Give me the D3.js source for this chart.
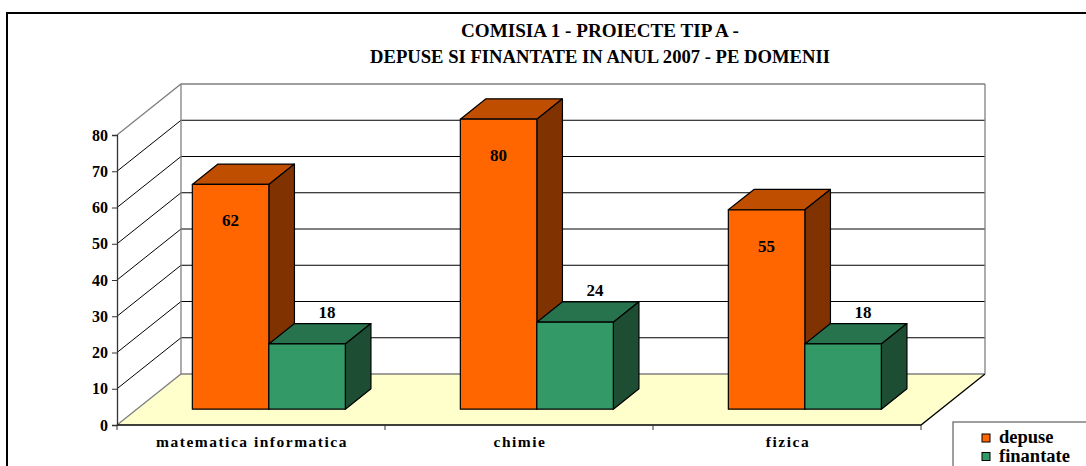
<!DOCTYPE html>
<html>
<head>
<meta charset="utf-8">
<script src="https://cdn.jsdelivr.net/npm/d3@7"></script>
<style>
  body { margin: 0; background: #fff; }
  svg { display: block; }
  text { font-family: "Liberation Serif", "Times New Roman", serif; font-weight: bold; fill: #000; }
</style>
</head>
<body>
<svg width="1086" height="466"></svg>
<script>
const titleLines = ["COMISIA 1 - PROIECTE TIP A -", "DEPUSE SI FINANTATE IN ANUL 2007 - PE DOMENII"];
const categories = ["matematica informatica", "chimie", "fizica"];
const depuse = [62, 80, 55];
const finantate = [18, 24, 18];
const yTicks = [0, 10, 20, 30, 40, 50, 60, 70, 80];
const seriesNames = ["depuse", "finantate"];

const svg = d3.select("svg");

// colours: front, top, side
const palette = {
    depuse: ["#FF6600", "#C04E00", "#803300"],
    finantate: ["#339966", "#26734D", "#1D4D33"]
};

// chart frame
svg.append("rect")
    .attr("x", 7).attr("y", 13)
    .attr("width", 1100).attr("height", 480)
    .attr("fill", "#fff")
    .attr("stroke", "#000")
    .attr("stroke-width", 2);

// title
svg.selectAll("text.title").data(titleLines)
    .enter().append("text")
    .attr("class", "title")
    .attr("x", 600)
    .attr("y", (d, i) => 37 + i * 26)
    .attr("text-anchor", "middle")
    .attr("font-size", "18.5px")
    .attr("textLength", (d, i) => i === 0 ? 278 : 460)
    .attr("lengthAdjust", "spacingAndGlyphs")
    .text(d => d);

// 3d geometry
const DX = 64, DY = 51;
const z0 = 0.31, z1 = 0.71;
const y = d3.scaleLinear().domain([0, 80]).range([425, 135]);
const x = d3.scaleBand().domain(categories).range([117, 921]);
const P = (px, v, z) => [px + z * DX, y(v) - z * DY];
const line = pts => "M" + pts.map(p => p.join(",")).join("L") + "Z";

const xMin = x.range()[0], xMax = x.range()[1];

// floor
svg.append("path")
    .attr("d", line([P(xMin, 0, 0), P(xMin, 0, 1), P(xMax, 0, 1), P(xMax, 0, 0)]))
    .attr("fill", "#FFFFCC")
    .attr("stroke", "none");
svg.append("path")
    .attr("d", "M" + P(xMin, 0, 0) + "L" + P(xMin, 0, 1) + "L" + P(xMax, 0, 1))
    .attr("fill", "none").attr("stroke", "#808080").attr("stroke-width", 1.3);
svg.append("path")
    .attr("d", "M" + P(xMax, 0, 1) + "L" + P(xMax, 0, 0) + "L" + P(xMin, 0, 0))
    .attr("fill", "none").attr("stroke", "#000").attr("stroke-width", 1.3);

// gridlines: side wall + back wall
const grid = yTicks.filter(v => v > 0);
svg.selectAll("path.grid").data(grid)
    .enter().append("path")
    .attr("class", "grid")
    .attr("d", v => "M" + P(xMin, v, 0) + "L" + P(xMin, v, 1) + "L" + P(xMax, v, 1))
    .attr("fill", "none")
    .attr("stroke", v => v === 80 ? "#808080" : "#000")
    .attr("stroke-width", v => v === 80 ? 1.3 : 1);

// back wall edges
svg.append("path")
    .attr("d", "M" + P(xMin, 0, 1) + "L" + P(xMin, 80, 1))
    .attr("stroke", "#808080").attr("stroke-width", 1.3);
svg.append("path")
    .attr("d", "M" + P(xMax, 0, 1) + "L" + P(xMax, 80, 1))
    .attr("stroke", "#808080").attr("stroke-width", 1.3);

// y axis
const yAxis = svg.append("g")
    .attr("transform", "translate(" + xMin + ",0)")
    .call(d3.axisLeft(y).tickValues(yTicks).tickSize(5).tickPadding(4));
yAxis.select(".domain").attr("stroke", "#333").attr("stroke-width", 1.3);
yAxis.selectAll(".tick line").attr("stroke", "#333");
yAxis.selectAll(".tick text")
    .attr("font-size", "16px")
    .attr("fill", "#000");

// category ticks along the front edge
const bounds = categories.map(c => x(c)).concat([xMax]);
svg.selectAll("line.xtick").data(bounds)
    .enter().append("line")
    .attr("class", "xtick")
    .attr("x1", d => d).attr("x2", d => d)
    .attr("y1", y(0)).attr("y2", y(0) + 5)
    .attr("stroke", "#333");

// category labels
svg.selectAll("text.cat").data(categories)
    .enter().append("text")
    .attr("class", "cat")
    .attr("x", d => x(d) + x.bandwidth() / 2 + 1)
    .attr("y", 447)
    .attr("text-anchor", "middle")
    .attr("font-size", "15.5px")
    .attr("letter-spacing", "1.5px")
    .text(d => d);

// bars
const barW = 76.5;
const bars = [];
categories.forEach((c, i) => {
    const x0 = x(c) + x.bandwidth() / 2 - barW - 2;
    bars.push({ s: "depuse", x0: x0, v: depuse[i] });
    bars.push({ s: "finantate", x0: x0 + barW, v: finantate[i] });
});

const g = svg.selectAll("g.bar").data(bars).enter().append("g").attr("class", "bar");
g.append("path")
    .attr("d", d => line([P(d.x0, d.v, z0), P(d.x0 + barW, d.v, z0), P(d.x0 + barW, d.v, z1), P(d.x0, d.v, z1)]))
    .attr("fill", d => palette[d.s][1]);
g.append("path")
    .attr("d", d => line([P(d.x0 + barW, d.v, z0), P(d.x0 + barW, 0, z0), P(d.x0 + barW, 0, z1), P(d.x0 + barW, d.v, z1)]))
    .attr("fill", d => palette[d.s][2]);
g.append("path")
    .attr("d", d => line([P(d.x0, d.v, z0), P(d.x0 + barW, d.v, z0), P(d.x0 + barW, 0, z0), P(d.x0, 0, z0)]))
    .attr("fill", d => palette[d.s][0]);
g.selectAll("path")
    .attr("stroke", "#000")
    .attr("stroke-width", 1.2)
    .attr("stroke-linejoin", "round");

// value labels
svg.selectAll("text.val").data(bars)
    .enter().append("text")
    .attr("class", "val")
    .attr("x", d => P(d.x0 + barW / 2, d.v, z0)[0] + (d.s === "depuse" ? 0 : 20))
    .attr("y", d => P(d.x0, d.v, z0)[1] + (d.s === "depuse" ? 42 : -26))
    .attr("text-anchor", "middle")
    .attr("font-size", "17px")
    .text(d => d.v);

// legend
const leg = svg.append("g").attr("transform", "translate(953,422)");
leg.append("rect")
    .attr("x", 0).attr("y", 0)
    .attr("width", 200).attr("height", 80)
    .attr("fill", "#fff")
    .attr("stroke", "#808080")
    .attr("stroke-width", 1.5);
const li = leg.selectAll("g.item").data(seriesNames)
    .enter().append("g")
    .attr("class", "item")
    .attr("transform", (d, i) => "translate(29," + (12 + i * 18.5) + ")");
li.append("rect")
    .attr("width", 8).attr("height", 8)
    .attr("fill", d => palette[d][0])
    .attr("stroke", "#000");
li.append("text")
    .attr("x", 17).attr("y", 9)
    .attr("font-size", "18.5px")
    .text(d => d);
</script>
</body>
</html>
